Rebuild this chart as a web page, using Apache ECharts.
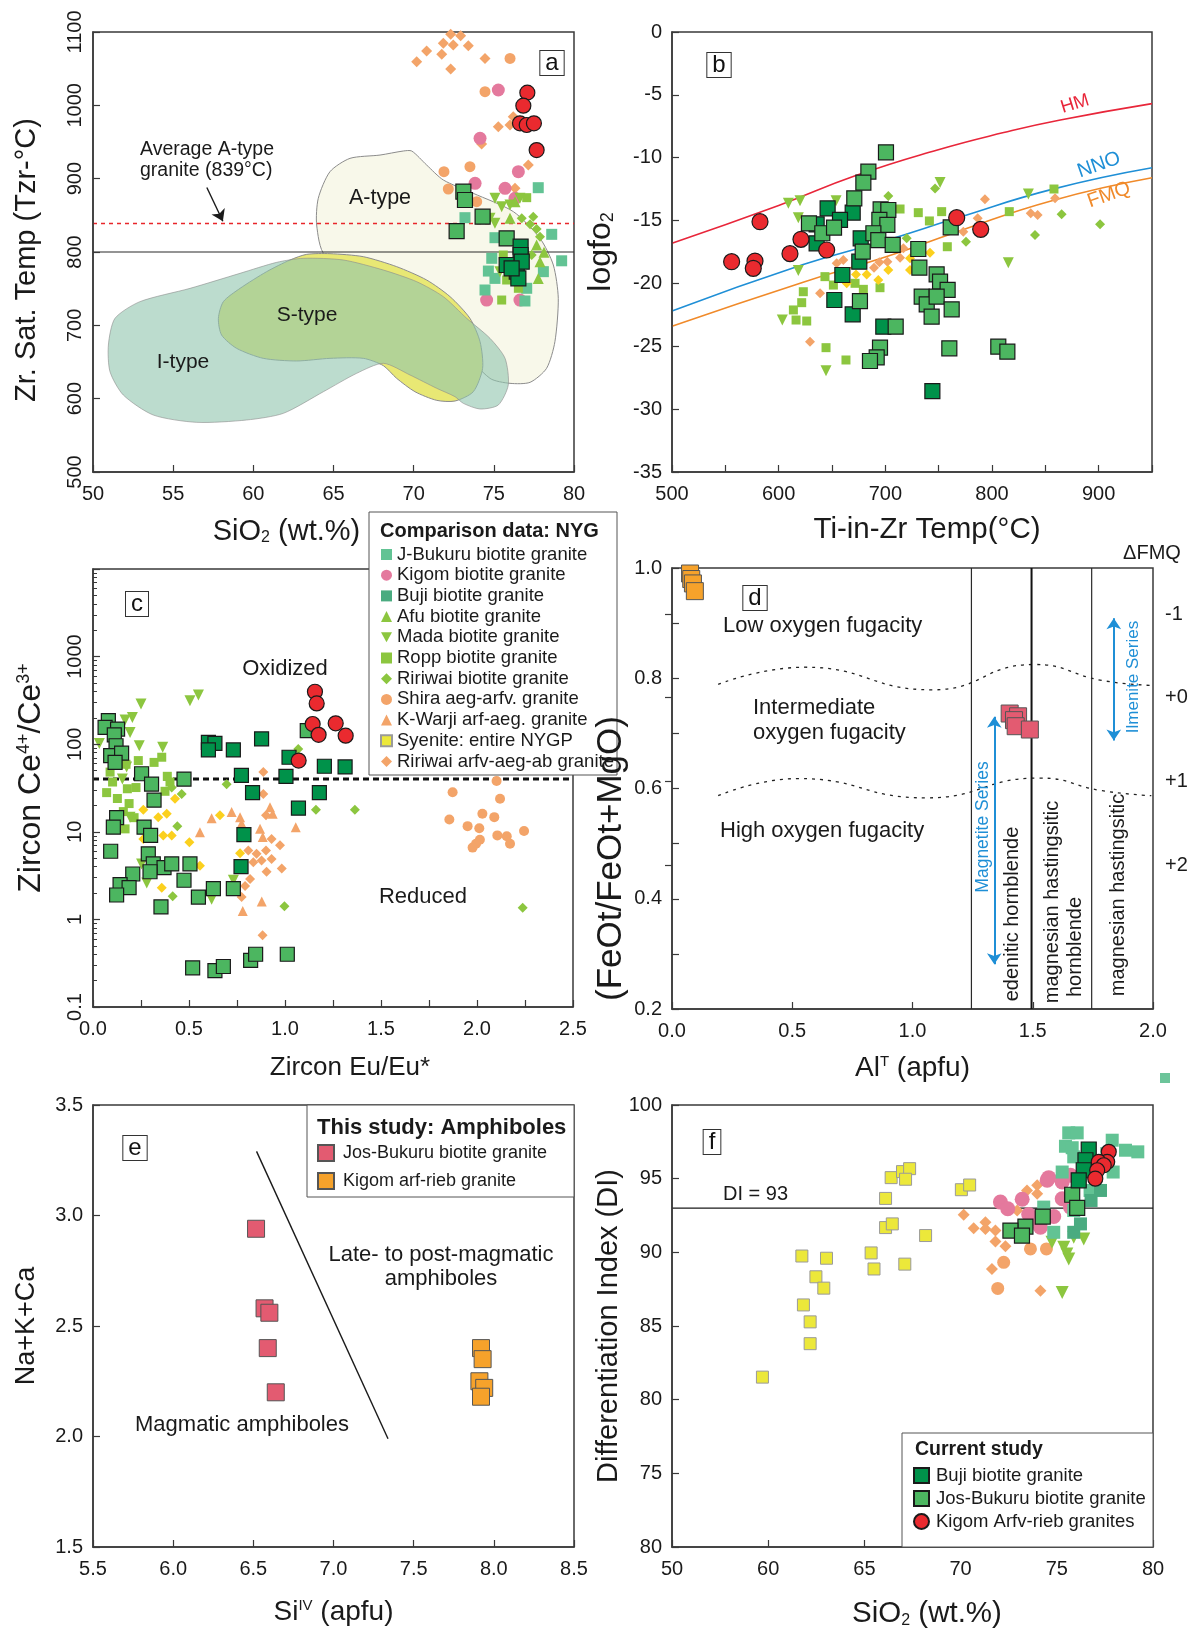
<!DOCTYPE html>
<html>
<head>
<meta charset="utf-8">
<script src="https://cdn.jsdelivr.net/npm/echarts@6/dist/echarts.min.js"></script>
<style>
  html, body { margin: 0; padding: 0; background: #fff; }
  #chart { width: 1197px; height: 1631px; }
</style>
</head>
<body>
<div id="chart"></div>
<script>
const FONT = 'Liberation Sans, Arial, Helvetica, sans-serif';

// ---------- panel a : SiO2 vs Zr saturation temperature ----------
const aTypeField = [[64.47,795.9],[63.95,836.8],[64.05,873.2],[64.78,909.5],[66.03,927.7],[67.9,932.2],[69.35,937.7],[69.88,937.7],[70.81,918.6],[71.85,898.2],[73.72,880],[76.22,855],[77.88,818.6],[78.71,782.3],[79.02,736.8],[78.81,677.7],[78.29,641.4],[77.26,622.3],[76.01,620.9],[74.76,627.7],[72.68,673.2],[68.52,755]];
const sTypeField = [[57.82,709.5],[58.13,732.3],[59.17,750.4],[60.83,773.2],[62.29,789.1],[63.33,796.8],[64.78,797.7],[66.86,793.6],[68.94,780],[70.81,761.8],[72.27,739.1],[73.51,709.5],[74.14,677.7],[74.3,641.4],[73.72,609.5],[72.58,596.8],[71.44,597.7],[70.08,609.5],[68.94,627.7],[68.11,645],[66.86,655],[64.78,655],[62.7,651.4],[60.62,655],[58.96,668.6],[58.02,686.8]];
const iTypeField = [[50.96,673.2],[51.37,709.5],[52.93,732.3],[56.05,750.4],[59.17,770.9],[61.46,785.9],[63.12,791.4],[65.61,789.1],[68.11,775.4],[70.19,759.5],[71.85,739.1],[73.31,709.5],[74.76,682.3],[75.7,655],[75.9,618.6],[75.28,591.4],[74.14,585.9],[73.1,593.6],[72.58,602.7],[71.44,614.1],[69.77,632.3],[68.11,648.2],[66.44,634.5],[64.37,609.5],[61.87,580],[59.58,570.9],[56.47,567.7],[53.76,577.7],[51.89,605],[51.06,636.8]];
const aLine800 = [[50,800],[80,800]];
const aLine839 = [[50,839],[80,839]];
const aArrow = [[57.1,888],[58.1,842]];

const aJBukuru = [[73.2,846.8],[77.77,887.7],[78.61,824.1],[79.23,788],[75.07,819.5],[74.87,791.4],[74.66,774],[74.45,748.2],[76.94,733.2],[75.07,764],[78.09,773.2],[77.05,750.5]];
const aKigomBt = [[75.28,1020.9],[74.14,955],[76.53,909.5],[73.83,893.6],[75.7,886.8],[76.32,873.2],[74.55,734.5],[76.63,734.5]];
const aShira = [[76.01,1064],[74.45,1018.6],[73.51,916.4],[71.89,909.5],[72.16,885.9],[73.93,868.6]];
const aRiriwaiArfv = [[70.19,1059.5],[70.81,1074],[71.75,1069.6],[71.85,1084.6],[72.31,1096.8],[72.47,1082.3],[72.93,1095],[73.41,1081.3],[72.31,1049.5],[74.45,1064],[75.28,970.9],[74.24,947.3],[76.01,973.2],[77.15,918.6],[76.32,886.8],[76.21,984.5]];
const aMada = [[75.07,873.2],[75.49,861.8],[76.01,864.1],[76.63,873.2],[74.76,845.9],[75.07,839.1],[75.38,773.2]];
const aAfu = [[76.32,868.6],[77.67,809.5],[78.13,799.5],[77.88,786.8],[77.77,764],[76.01,845.9]];
const aRiriwaiBt = [[76.74,845.9],[77.46,848.2],[77.26,837.8],[77.67,831.4],[77.88,820.9],[77.36,795.9]];
const aRopp = [[77.05,874.1],[75.59,795.9],[75.49,734.5],[76.53,750.5],[75.8,761.8]];
const aJosBukuru = [[73.1,882.3],[73.2,870.9],[74.3,848.2],[72.68,828.6],[75.8,818.6]];
const aBuji = [[76.67,807.3],[76.67,795.9],[75.8,782.3],[76.43,773.2],[76.53,764],[76.74,786.8],[76.11,777.7]];
const aKigomArfv = [[77.09,1017.3],[76.84,999.5],[76.63,975.5],[77.05,973.2],[77.5,975.5],[77.67,939]];

// ---------- panel b : Ti-in-Zr temperature vs logfO2 ----------
const bHM = [[500,-16.8],[600,-13.8],[673,-11.4],[748,-9.4],[811,-8.0],[864,-7.0],[950,-5.7]];
const bNNO = [[500,-22.2],[623,-18.5],[700,-16.6],[767,-14.8],[857,-12.5],[950,-10.8]];
const bFMQ = [[500,-23.4],[623,-19.9],[700,-17.9],[767,-15.9],[857,-13.4],[950,-11.6]];

const bJosBukuru = [[700.6,-9.57],[684.1,-11.11],[679.4,-11.98],[670.9,-13.23],[628.4,-15.22],[640.9,-16.01],[651.9,-15.56],[678.8,-17.47],[695.6,-14.11],[702.8,-14.16],[694.4,-14.95],[701.9,-15.35],[688.8,-16.01],[693.4,-16.55],[706.9,-16.94],[730.9,-17.26],[731.9,-18.75],[748.1,-19.28],[751.3,-19.86],[758.4,-20.52],[734.1,-21.05],[738.8,-21.66],[748.1,-21.05],[743.4,-22.64],[762.2,-22.06],[761.3,-15.54],[676.2,-21.4],[709.7,-23.44],[695,-25.11],[691.9,-25.88],[685.6,-26.17],[760,-25.16],[805.9,-25.03],[814.4,-25.43]];
const bBuji = [[669.4,-14.37],[645.9,-14.03],[657.5,-14.95],[635.6,-15.3],[635.6,-16.81],[676.9,-16.41],[675.6,-18.27],[659.7,-19.33],[652.2,-21.32],[669.4,-22.46],[698.1,-23.44],[744.1,-28.56]];
const bKigomArfv = [[555.9,-18.27],[577.8,-18.22],[576.2,-18.8],[582.5,-15.09],[610.6,-17.63],[620.9,-16.49],[645,-17.34],[766.9,-14.77],[789.4,-15.7]];
const bMada = [[609.1,-13.63],[620,-13.42],[653.8,-13.42],[618.4,-18.98],[603.4,-22.91],[644.4,-26.94],[751.3,-11.98],[815.3,-18.35],[834.1,-12.89],[618.4,-14.77]];
const bRopp = [[713.8,-14.08],[730.9,-14.37],[741.3,-15.03],[752.8,-14.29],[816.2,-14.29],[858.1,-12.49],[758.1,-17.08],[695,-20.34],[679.4,-20.47],[643.4,-19.46],[623.1,-20.66],[621.6,-21.53],[613.8,-22.11],[616.3,-22.91],[626.3,-22.99],[644.4,-25.11],[663.1,-26.09],[651.3,-20.13],[671.6,-19.99]];
const bRiriwaiBt = [[702.8,-13.05],[746.6,-12.44],[720,-16.41],[775.6,-16.68],[840.3,-16.15],[865.3,-14.5],[901.3,-15.3]];
const bRiriwaiArfv = [[793.4,-13.31],[786.6,-14.82],[773.1,-15.88],[836.3,-14.42],[842.8,-14.56],[859.1,-13.23],[629.4,-24.63],[638.8,-20.79],[654.4,-18.4],[660.6,-18.14],[689.4,-18.75],[694.4,-18.32],[701.9,-18.27],[713.8,-17.95],[716.9,-17.21]];
const bSyenite = [[672.5,-19.28],[682.5,-19.28],[693.4,-19.73],[702.8,-18.93],[723.1,-18.93],[741.9,-17.55],[663.8,-19.99],[723.1,-18.0]];

// ---------- panel c : zircon Eu/Eu* vs Ce4+/Ce3+ ----------
const cLine40 = [[0,40],[2.5,40]];
const cJosBukuru = [[0.08,186],[0.063,156],[0.128,149],[0.111,128],[0.12,96],[0.092,74],[0.149,79],[0.115,62],[0.253,46],[0.305,35],[0.474,40],[0.318,23],[0.123,14.5],[0.106,11.3],[0.266,11.3],[0.3,9.1],[0.092,6.0],[0.288,5.6],[0.314,4.3],[0.37,3.9],[0.41,4.3],[0.505,4.3],[0.297,3.5],[0.207,3.3],[0.141,2.5],[0.188,2.3],[0.123,1.9],[0.474,2.8],[0.549,1.8],[0.627,2.25],[0.731,2.25],[0.354,1.39],[0.519,0.28],[0.635,0.26],[0.679,0.29],[0.821,0.34],[0.847,0.4],[1.012,0.4],[1.116,143]];
const cBuji = [[0.601,105],[0.635,102],[0.601,86],[0.731,86],[0.878,115],[1.021,71],[0.773,44],[1.005,43],[0.831,28],[1.205,56],[1.313,55],[1.179,28],[1.07,18.6],[0.786,9.3],[0.771,4.0]];
const cKigomArfv = [[1.156,397],[1.165,292],[1.144,170],[1.175,128],[1.264,173],[1.316,125],[1.071,65]];
const cShira = [[1.873,28.3],[2.12,23.8],[1.856,13.8],[1.951,11.6],[2.012,11.0],[2.028,16.1],[2.09,14.7],[2.015,8.1],[1.995,7.3],[1.977,6.6],[2.106,9.1],[2.155,8.9],[2.172,7.3],[2.245,10.2],[2.102,38]];
const cRiriwaiArfv = [[0.887,48],[0.887,27],[0.901,15.4],[0.93,8.3],[0.974,7.0],[0.809,6.1],[0.852,5.6],[0.901,6.1],[0.878,4.7],[0.835,4.5],[0.93,4.9],[0.904,3.5],[0.983,3.8],[0.818,2.9],[0.792,2.4],[0.774,1.8],[0.883,0.66]];
const cKWarji = [[0.618,14.3],[0.722,16.8],[0.766,14.7],[0.557,9.9],[0.774,12.4],[0.87,10.8],[0.884,8.7],[0.922,19.1],[0.936,16.1],[1.056,11.3],[0.879,1.6],[0.78,1.25]];
const cSyenite = [[0.262,17.8],[0.34,14.7],[0.384,16.1],[0.427,23.8],[0.502,7.6],[0.41,9.1],[0.366,9.1],[0.262,8.3],[0.557,4.1],[0.358,2.3],[0.766,5.7],[0.661,15.4]];
const cMada = [[0.033,102],[0.167,189],[0.205,202],[0.193,136],[0.25,288],[0.241,96],[0.363,92],[0.505,314],[0.549,364],[0.175,55],[0.153,40],[0.193,14.7],[0.253,4.3],[0.28,2.6],[0.618,1.7],[0.731,2.8]];
const cRopp = [[0.236,65],[0.318,62],[0.358,71],[0.172,59],[0.089,48],[0.102,37],[0.071,28],[0.127,24],[0.179,31],[0.224,32],[0.188,21],[0.158,17],[0.214,14.5],[0.167,10.8],[0.387,43],[0.401,37],[0.375,29]];
const cRiriwaiBt = [[0.696,35],[0.41,32],[0.462,27],[0.439,11.6],[1.069,88],[1.161,17.8],[1.364,17.8],[0.997,1.41],[0.415,1.84],[2.238,1.36]];
const cDecades = [0.1, 1, 10, 100, 1000];
const cMinorSteps = [2, 3, 4, 5, 6, 7, 8, 9];

// ---------- panel d : AlT vs Fe# ----------
const dUpperWave = [[0.192,0.789],[0.551,0.82],[1.083,0.779],[1.505,0.825],[1.788,0.796],[1.993,0.787]];
const dLowerWave = [[0.192,0.587],[0.524,0.618],[1.056,0.583],[1.526,0.619],[1.788,0.596],[1.993,0.587]];
const dDivider1 = [[1.245,0.2],[1.245,1.0]];
const dDivider2 = [[1.495,0.2],[1.495,1.0]];
const dDivider3 = [[1.745,0.2],[1.745,1.0]];
const dMagnetiteArrow = [[1.34,0.73],[1.34,0.281]];
const dIlmeniteArrow = [[1.837,0.909],[1.837,0.687]];
const dFmqTicks = [-1, 0, 1, 2];
const dJosAmph = [[1.404,0.736],[1.439,0.731],[1.422,0.724],[1.429,0.713],[1.488,0.707]];
const dKigomAmph = [[0.075,0.99],[0.08,0.98],[0.087,0.972],[0.095,0.958]];

// ---------- panel e : SiIV vs Na+K+Ca ----------
const eDivide = [[6.52,3.29],[7.34,1.99]];
const eJosAmph = [[6.517,2.94],[6.57,2.58],[6.6,2.56],[6.59,2.4],[6.64,2.2]];
const eKigomAmph = [[7.92,2.4],[7.93,2.35],[7.91,2.25],[7.94,2.22],[7.92,2.18]];

// ---------- panel f : SiO2 vs differentiation index ----------
const fLine93 = [[55,93],[80,93]];
const fSyenite = [[59.7,81.53],[61.75,89.75],[63.03,89.6],[62.48,88.34],[62.89,87.57],[61.83,86.43],[62.18,85.28],[62.18,83.8],[65.35,89.96],[65.5,88.87],[66.1,93.66],[66.1,91.68],[66.45,91.93],[66.39,95.07],[66.98,95.48],[67.35,95.68],[67.14,94.96],[68.18,91.14],[67.1,89.2],[70.04,94.25],[70.47,94.57]];
const fKigomBt = [[72.07,93.41],[72.45,92.96],[73.2,93.6],[73.54,92.57],[74.15,91.7],[74.58,95.07],[74.84,92.43],[75.28,94.77],[75.28,93.64],[75.71,95.23],[75.71,93.07],[74.5,94.9],[73.89,92.27]];
const fRiriwaiArfv = [[70.16,92.55],[70.68,91.64],[71.29,92.05],[71.29,91.59],[71.81,91.48],[71.81,90.73],[72.33,90.41],[71.63,88.87],[74.15,87.39],[73.45,94.2],[73.98,93.98],[72.94,92.84],[73.98,94.55]];
const fShira = [[72.24,89.32],[71.93,87.55],[73.63,90.23],[74.46,90.23]];
const fMada = [[75.28,87.27],[75.62,89.55],[75.36,90.34],[75.52,89.89],[76.4,90.91],[74.75,90.68],[75.88,91.02]];
const fJBukuru = [[75.62,98.11],[76.06,98.11],[75.45,97.2],[75.8,97.1],[75.88,96.48],[77.88,97.61],[78.57,96.93],[79.21,96.82],[77.93,95.45],[75.88,92.84],[74.32,93.07],[74.84,91.36],[75.28,95.45],[76.73,94.2],[77.6,96.7]];
const fBujiNYG = [[77.27,94.2],[76.78,93.52],[75.88,91.36],[76.23,91.93]];
const fBuji = [[76.66,96.98],[76.49,96.25],[76.4,95.57],[76.14,94.89]];
const fJosBukuru = [[75.8,93.91],[76.06,93.02],[74.27,92.43],[73.37,91.75],[72.59,91.48],[73.19,91.14]];
const fKigomArfv = [[77.7,96.82],[77.62,96.14],[77.18,96.14],[77.44,95.91],[77.1,95.57],[77.0,95.0]];

// ---------- colours ----------
const C_JB = '#62c394', C_KIGBT = '#e4799d', C_BUJI_NYG = '#4aab80', C_LIME = '#8cc63f',
      C_ORANGE = '#f3a469', C_SYE = '#ece83a', C_SYE_D = '#fbd01e',
      C_BUJI = '#00924a', C_JOS = '#4cb660', C_RED = '#ea2a2f',
      C_AMPH_JOS = '#e35b71', C_AMPH_KIG = '#f6a22b', C_BLUE = '#1f8fd6';
const DOWN = 'path://M0,0L10,0L5,9Z';
const CUR = { borderColor: '#1a1a1a', borderWidth: 1.2 };

function rich(fs) {
  return {
    sub: { fontSize: Math.round(fs * 0.55), verticalAlign: 'bottom', fontFamily: FONT, color: '#1a1a1a' },
    sup: { fontSize: Math.round(fs * 0.55), verticalAlign: 'top', fontFamily: FONT, color: '#1a1a1a' }
  };
}

function xAx(grid, min, max, interval, fmt, name, gap, fs, pad) {
  return {
    gridIndex: grid, type: 'value', min, max, interval,
    name, nameLocation: 'middle', nameGap: gap,
    nameTextStyle: { color: '#1a1a1a', fontSize: fs, fontFamily: FONT, rich: rich(fs), padding: pad || 0 },
    axisLine: { show: true, onZero: false, lineStyle: { color: '#3a3a3a', width: 1.5 } },
    axisTick: { show: true, inside: true, length: 7, lineStyle: { color: '#3a3a3a', width: 1.2 } },
    axisLabel: { color: '#1a1a1a', fontSize: 20, fontFamily: FONT, margin: 12, showMinLabel: true, showMaxLabel: true, formatter: fmt || undefined },
    splitLine: { show: false }
  };
}
function yAx(grid, min, max, interval, fmt, name, gap, fs, pad, extraLabel) {
  return {
    gridIndex: grid, type: 'value', min, max, interval, position: 'left', z: 10,
    name, nameLocation: 'middle', nameGap: gap,
    nameTextStyle: { color: '#1a1a1a', fontSize: fs, fontFamily: FONT, rich: rich(fs), padding: pad || 0 },
    axisLine: { show: true, onZero: false, lineStyle: { color: '#3a3a3a', width: 1.5 } },
    axisTick: { show: true, inside: true, length: 7, lineStyle: { color: '#3a3a3a', width: 1.2 } },
    axisLabel: Object.assign({ color: '#1a1a1a', fontSize: 20, fontFamily: FONT, margin: 10, showMinLabel: true, showMaxLabel: true, formatter: fmt || undefined }, extraLabel || {}),
    splitLine: { show: false }
  };
}

function pts(name, data, xi, yi, symbol, size, color, border, z) {
  return {
    type: 'scatter', name, data, xAxisIndex: xi, yAxisIndex: yi, symbol, symbolSize: size,
    itemStyle: Object.assign({ color, opacity: 1 }, border || {}),
    z: z || 3, silent: true, animation: false
  };
}
function ln(data, xi, yi, color, width, type, smooth) {
  return {
    type: 'line', data, xAxisIndex: xi, yAxisIndex: yi, symbol: 'none', showSymbol: false,
    smooth: smooth || false, lineStyle: { color, width, type: type || 'solid' },
    z: 2, silent: true, animation: false
  };
}
function arrow(pair, xi, yi, color, width, both) {
  return {
    type: 'line', data: pair, xAxisIndex: xi, yAxisIndex: yi, symbol: 'none', showSymbol: false,
    lineStyle: { opacity: 0 }, silent: true, animation: false, z: 4,
    markLine: {
      silent: true, animation: false, symbol: both ? ['arrow', 'arrow'] : ['none', 'arrow'], symbolSize: 11,
      label: { show: false }, lineStyle: { color, width, type: 'solid' },
      data: [[{ coord: pair[0] }, { coord: pair[1] }]]
    }
  };
}
function field(points, xi, yi, fill, opacity) {
  return {
    type: 'custom', xAxisIndex: xi, yAxisIndex: yi, data: [[points[0][0], points[0][1]]],
    silent: true, animation: false, z: 1,
    renderItem: (params, api) => ({
      type: 'polygon',
      shape: { points: points.map(p => api.coord(p)), smooth: 0.25 },
      style: { fill, stroke: '#8c8c8c', lineWidth: 1, opacity }
    })
  };
}

const grids = [
  { left: 93, top: 32, width: 481, height: 440 },
  { left: 672, top: 32, width: 480, height: 440 },
  { left: 93, top: 569, width: 480, height: 438 },
  { left: 672, top: 568, width: 481, height: 441 },
  { left: 93, top: 1105, width: 481, height: 442 },
  { left: 672, top: 1105, width: 481, height: 442 }
].map(g => Object.assign({ show: true, borderColor: '#3a3a3a', borderWidth: 1.5, backgroundColor: 'transparent' }, g));

const half = v => Math.abs(v * 2 - Math.round(v * 2)) < 1e-6;
const xAxes = [
  xAx(0, 50, 80, 5, v => String(v), 'SiO{sub|2} (wt.%)', 45, 29, [0, 94, 0, 0]),
  xAx(1, 500, 950, 50, v => (v % 100 === 0 ? String(v) : ''), 'Ti-in-Zr Temp(°C)', 43, 29.5, [0, 0, 0, 30]),
  xAx(2, 0, 2.5, 0.25, v => (half(v) ? v.toFixed(1) : ''), 'Zircon Eu/Eu*', 48, 26, [0, 0, 0, 34]),
  xAx(3, 0, 2, 0.5, v => v.toFixed(1), 'Al{sup|T} (apfu)', 45, 28),
  xAx(4, 5.5, 8.5, 0.5, v => v.toFixed(1), 'Si{sup|IV} (apfu)', 51, 28),
  xAx(5, 55, 80, 5, v => (v === 55 ? '50' : String(v)), 'SiO{sub|2} (wt.%)', 52, 29.5, [0, 0, 0, 29])
];

const cLog = yAx(2, 0.1, 10000, null, v => (v >= 10000 ? '' : String(v)), 'Zircon Ce{sup|4+}/Ce{sup|3+}', 46, 32, [0, 0, 0, 20], { rotate: 90, margin: 8 });
cLog.type = 'log'; cLog.logBase = 10; delete cLog.interval;
const cMinor = {
  gridIndex: 2, type: 'value', min: -1, max: 4, position: 'left',
  axisLine: { show: false }, splitLine: { show: false }, axisLabel: { show: false },
  axisTick: { show: true, inside: true, length: 4, lineStyle: { color: '#3a3a3a', width: 1 },
    customValues: cDecades.flatMap(d => cMinorSteps.map(s => Math.log10(d * s))) }
};
const dRight = {
  gridIndex: 3, type: 'value', min: -1.55, max: 3.72, inverse: true, position: 'right',
  axisLine: { show: false }, splitLine: { show: false },
  axisTick: { show: true, inside: true, length: 7, customValues: dFmqTicks, lineStyle: { color: '#3a3a3a', width: 1.2 } },
  axisLabel: { show: true, customValues: dFmqTicks, margin: 12, color: '#1a1a1a', fontSize: 20, fontFamily: FONT,
    formatter: v => (v < 0 ? '-1' : '+' + v) }
};

const yAxes = [
  yAx(0, 500, 1100, 100, v => String(v), 'Zr. Sat. Temp (Tzr-°C)', 52, 29, [0, 16, 0, 0], { rotate: 90, margin: 8 }),
  yAx(1, -35, 0, 5, v => String(v), 'logfo{sub|2}', 55, 32),
  cLog,
  cMinor,
  yAx(3, 0.2, 1.0, 0.1, v => (Math.round(v * 10) % 2 === 0 ? v.toFixed(1) : ''), '(FeOt/FeOt+MgO)', 43, 35, [0, 140, 0, 0]),
  dRight,
  yAx(4, 1.5, 3.5, 0.5, v => v.toFixed(1), 'Na+K+Ca', 53, 27),
  yAx(5, 70, 100, 5, v => (v === 70 ? '80' : String(v)), 'Differentiation Index (DI)', 49, 29)
];

const series = [
  // a
  field(aTypeField, 0, 0, '#f8f8ea', 1),
  field(sTypeField, 0, 0, '#e8e874', 1),
  field(iTypeField, 0, 0, '#8fc4ae', 0.6),
  ln(aLine800, 0, 0, '#2a2a2a', 1.2),
  ln(aLine839, 0, 0, '#e8262b', 1.5, [4, 4]),
  arrow(aArrow, 0, 0, '#1a1a1a', 1.4, false),
  pts('Ririwai arfv-aeg-ab granite', aRiriwaiArfv, 0, 0, 'diamond', 11, C_ORANGE),
  pts('Shira aeg-arfv. granite', aShira, 0, 0, 'circle', 11, C_ORANGE),
  pts('Kigom biotite granite', aKigomBt, 0, 0, 'circle', 13, C_KIGBT),
  pts('J-Bukuru biotite granite', aJBukuru, 0, 0, 'rect', 11, C_JB),
  pts('Ropp biotite granite', aRopp, 0, 0, 'rect', 9, C_LIME),
  pts('Mada biotite granite', aMada, 0, 0, DOWN, 11, C_LIME),
  pts('Afu biotite granite', aAfu, 0, 0, 'triangle', 11, C_LIME),
  pts('Ririwai biotite granite', aRiriwaiBt, 0, 0, 'diamond', 10, C_LIME),
  pts('Jos-Bukuru biotite granite', aJosBukuru, 0, 0, 'rect', 15, C_JOS, CUR, 5),
  pts('Buji biotite granite', aBuji, 0, 0, 'rect', 15, C_BUJI, CUR, 5),
  pts('Kigom Arfv-rieb granites', aKigomArfv, 0, 0, 'circle', 15, C_RED, CUR, 5),
  // b
  ln(bHM, 1, 1, '#e8263a', 1.6, 'solid', true),
  ln(bNNO, 1, 1, '#1f8fd6', 1.6, 'solid', true),
  ln(bFMQ, 1, 1, '#f08a2a', 1.6, 'solid', true),
  pts('Ropp biotite granite', bRopp, 1, 1, 'rect', 9, C_LIME),
  pts('Mada biotite granite', bMada, 1, 1, DOWN, 11, C_LIME),
  pts('Ririwai biotite granite', bRiriwaiBt, 1, 1, 'diamond', 10, C_LIME),
  pts('Ririwai arfv-aeg-ab granite', bRiriwaiArfv, 1, 1, 'diamond', 10, C_ORANGE),
  pts('Syenite [b]', bSyenite, 1, 1, 'diamond', 10, C_SYE_D),
  pts('Buji biotite granite', bBuji, 1, 1, 'rect', 15, C_BUJI, CUR, 5),
  pts('Jos-Bukuru biotite granite', bJosBukuru, 1, 1, 'rect', 15, C_JOS, CUR, 5),
  pts('Kigom Arfv-rieb granites', bKigomArfv, 1, 1, 'circle', 16, C_RED, CUR, 5),
  // c
  ln(cLine40, 2, 2, '#111', 3, [6, 4]),
  pts('Ropp biotite granite', cRopp, 2, 2, 'rect', 9, C_LIME),
  pts('Mada biotite granite', cMada, 2, 2, DOWN, 11, C_LIME),
  pts('Ririwai biotite granite', cRiriwaiBt, 2, 2, 'diamond', 10, C_LIME),
  pts('Syenite [c]', cSyenite, 2, 2, 'diamond', 10, C_SYE_D),
  pts('K-Warji arf-aeg. granite', cKWarji, 2, 2, 'triangle', 10, C_ORANGE),
  pts('Ririwai arfv-aeg-ab granite', cRiriwaiArfv, 2, 2, 'diamond', 10, C_ORANGE),
  pts('Shira aeg-arfv. granite', cShira, 2, 2, 'circle', 10, C_ORANGE),
  pts('Jos-Bukuru biotite granite', cJosBukuru, 2, 2, 'rect', 14, C_JOS, CUR, 5),
  pts('Buji biotite granite', cBuji, 2, 2, 'rect', 14, C_BUJI, CUR, 5),
  pts('Kigom Arfv-rieb granites', cKigomArfv, 2, 2, 'circle', 15, C_RED, CUR, 5),
  // d
  ln(dUpperWave, 3, 4, '#222', 1.3, [3, 5], true),
  ln(dLowerWave, 3, 4, '#222', 1.3, [3, 5], true),
  ln(dDivider1, 3, 4, '#2a2a2a', 1.2),
  ln(dDivider2, 3, 4, '#111', 2),
  ln(dDivider3, 3, 4, '#2a2a2a', 1.2),
  arrow(dMagnetiteArrow, 3, 4, C_BLUE, 2, true),
  arrow(dIlmeniteArrow, 3, 4, C_BLUE, 2, true),
  pts('Jos-Bukuru biotite granite [amph]', dJosAmph, 3, 4, 'rect', 17, C_AMPH_JOS, { borderColor: '#555', borderWidth: 1 }, 5),
  pts('Kigom arf-rieb granite', dKigomAmph, 3, 4, 'rect', 17, C_AMPH_KIG, { borderColor: '#555', borderWidth: 1 }, 5),
  // e
  ln(eDivide, 4, 6, '#1a1a1a', 1.4),
  pts('Jos-Bukuru biotite granite [amph]', eJosAmph, 4, 6, 'rect', 17, C_AMPH_JOS, { borderColor: '#555', borderWidth: 1 }, 5),
  pts('Kigom arf-rieb granite', eKigomAmph, 4, 6, 'rect', 17, C_AMPH_KIG, { borderColor: '#555', borderWidth: 1 }, 5),
  // f
  ln(fLine93, 5, 7, '#1a1a1a', 1.4),
  pts('Syenite: entire NYGP', fSyenite, 5, 7, 'rect', 12, C_SYE, { borderColor: '#9a9a9a', borderWidth: 1 }),
  pts('Ririwai arfv-aeg-ab granite', fRiriwaiArfv, 5, 7, 'diamond', 12, C_ORANGE),
  pts('Shira aeg-arfv. granite', fShira, 5, 7, 'circle', 13, C_ORANGE),
  pts('Mada biotite granite', fMada, 5, 7, DOWN, 13, C_LIME),
  pts('Kigom biotite granite', fKigomBt, 5, 7, 'circle', 15, C_KIGBT),
  pts('J-Bukuru biotite granite', fJBukuru, 5, 7, 'rect', 13, C_JB),
  pts('Buji biotite granite [NYG]', fBujiNYG, 5, 7, 'rect', 13, C_BUJI_NYG),
  pts('Jos-Bukuru biotite granite', fJosBukuru, 5, 7, 'rect', 15, C_JOS, CUR, 5),
  pts('Buji biotite granite', fBuji, 5, 7, 'rect', 15, C_BUJI, CUR, 5),
  pts('Kigom Arfv-rieb granites', fKigomArfv, 5, 7, 'circle', 15, C_RED, CUR, 5)
];

const legendText = n => n.replace(/ \[.*\]$/, '');
const legends = [
  {
    left: 380, top: 545, orient: 'vertical', padding: 0, itemWidth: 11, itemHeight: 11, itemGap: 1.7,
    selectedMode: false, z: 8, formatter: legendText,
    textStyle: { fontSize: 18.5, lineHeight: 16, color: '#1a1a1a', fontFamily: FONT },
    data: [
      { name: 'J-Bukuru biotite granite', icon: 'rect' },
      { name: 'Kigom biotite granite', icon: 'circle' },
      { name: 'Buji biotite granite [NYG]', icon: 'rect' },
      { name: 'Afu biotite granite', icon: 'triangle' },
      { name: 'Mada biotite granite', icon: DOWN },
      { name: 'Ropp biotite granite', icon: 'rect' },
      { name: 'Ririwai biotite granite', icon: 'diamond' },
      { name: 'Shira aeg-arfv. granite', icon: 'circle' },
      { name: 'K-Warji arf-aeg. granite', icon: 'triangle' },
      { name: 'Syenite: entire NYGP', icon: 'rect' },
      { name: 'Ririwai arfv-aeg-ab granite', icon: 'diamond' }
    ]
  },
  {
    left: 317, top: 1144, orient: 'vertical', padding: 0, itemWidth: 16, itemHeight: 16, itemGap: 10,
    selectedMode: false, z: 8, formatter: legendText,
    textStyle: { fontSize: 18, lineHeight: 16, color: '#1a1a1a', fontFamily: FONT, padding: [0, 0, 0, 4] },
    data: [
      { name: 'Jos-Bukuru biotite granite [amph]', icon: 'rect' },
      { name: 'Kigom arf-rieb granite', icon: 'rect' }
    ]
  },
  {
    left: 913, top: 1466, orient: 'vertical', padding: 0, itemWidth: 15, itemHeight: 15, itemGap: 4,
    selectedMode: false, z: 8, formatter: legendText,
    textStyle: { fontSize: 18.5, lineHeight: 15, color: '#1a1a1a', fontFamily: FONT, padding: [0, 0, 0, 2] },
    data: [
      { name: 'Buji biotite granite', icon: 'rect' },
      { name: 'Jos-Bukuru biotite granite', icon: 'rect' },
      { name: 'Kigom Arfv-rieb granites', icon: 'circle' }
    ]
  }
];

function T(x, y, text, size, align, extra) {
  extra = extra || {};
  return {
    type: 'text', x, y, z: 9, rotation: extra.rotation || 0, silent: true,
    style: {
      text, font: (extra.bold ? 'bold ' : '') + size + 'px ' + FONT,
      fill: extra.fill || '#1a1a1a', align: align || 'center', verticalAlign: 'middle'
    }
  };
}
function letter(x, y, t) {
  return {
    type: 'text', x, y, z: 9, silent: true,
    style: { text: t, font: '24px ' + FONT, fill: '#111', align: 'center', verticalAlign: 'middle',
      backgroundColor: '#fff', borderColor: '#333', borderWidth: 1, padding: [0, 5, 1, 5], lineHeight: 23 }
  };
}
function box(x, y, w, h) {
  return { type: 'rect', z: 7, silent: true, shape: { x, y, width: w, height: h },
    style: { fill: '#fff', stroke: '#555', lineWidth: 1 } };
}
const R90 = Math.PI / 2;

const graphics = [
  letter(552, 63, 'a'), letter(719, 65, 'b'), letter(137, 604, 'c'),
  letter(755, 598, 'd'), letter(135, 1148, 'e'), letter(712, 1142, 'f'),
  T(140, 150, 'Average A-type', 19.5, 'left'), T(140, 171, 'granite (839°C)', 19.5, 'left'),
  T(380, 198, 'A-type', 21.5), T(307, 315, 'S-type', 21), T(183, 362, 'I-type', 21),
  T(1075, 104, 'HM', 18.5, 'center', { fill: '#e8263a', rotation: 0.3 }),
  T(1099, 165, 'NNO', 20, 'center', { fill: C_BLUE, rotation: 0.34 }),
  T(1109, 195, 'FMQ', 20, 'center', { fill: '#f08a2a', rotation: 0.34 }),
  T(285, 669, 'Oxidized', 22), T(423, 897, 'Reduced', 22),
  T(723, 626, 'Low oxygen fugacity', 22, 'left'),
  T(753, 708, 'Intermediate', 22, 'left'), T(753, 733, 'oxygen fugacity', 22, 'left'),
  T(720, 831, 'High oxygen fugacity', 22, 'left'),
  T(983, 827, 'Magnetite Series', 17.5, 'center', { fill: C_BLUE, rotation: R90 }),
  T(1012, 914, 'edenitic hornblende', 20, 'center', { rotation: R90 }),
  T(1052, 902, 'magnesian hastingsitic', 20, 'center', { rotation: R90 }),
  T(1075, 947, 'hornblende', 20, 'center', { rotation: R90 }),
  T(1118, 895, 'magnesian hastingsitic', 20, 'center', { rotation: R90 }),
  T(1133, 677, 'Ilmenite Series', 17, 'center', { fill: C_BLUE, rotation: R90 }),
  T(1152, 553, 'ΔFMQ', 20),
  T(441, 1255, 'Late- to post-magmatic', 22), T(441, 1279, 'amphiboles', 22),
  T(242, 1425, 'Magmatic amphiboles', 22),
  T(723, 1194, 'DI = 93', 20, 'left'),
  box(369, 512, 248, 263), T(380, 531, 'Comparison data: NYG', 20, 'left', { bold: true }),
  box(307, 1105, 267, 92), T(317, 1128, 'This study: Amphiboles', 22, 'left', { bold: true }),
  box(902, 1433, 251, 114), T(915, 1450, 'Current study', 19.5, 'left', { bold: true }),
  { type: 'rect', z: 9, silent: true, shape: { x: 1160, y: 1073, width: 10, height: 10 }, style: { fill: '#6cc49a' } }
];

const chart = echarts.init(document.getElementById('chart'), null, { renderer: 'canvas' });
chart.setOption({
  animation: false,
  backgroundColor: '#fff',
  textStyle: { fontFamily: FONT },
  grid: grids,
  xAxis: xAxes,
  yAxis: yAxes,
  legend: legends,
  series,
  graphic: graphics
});
</script>
</body>
</html>
